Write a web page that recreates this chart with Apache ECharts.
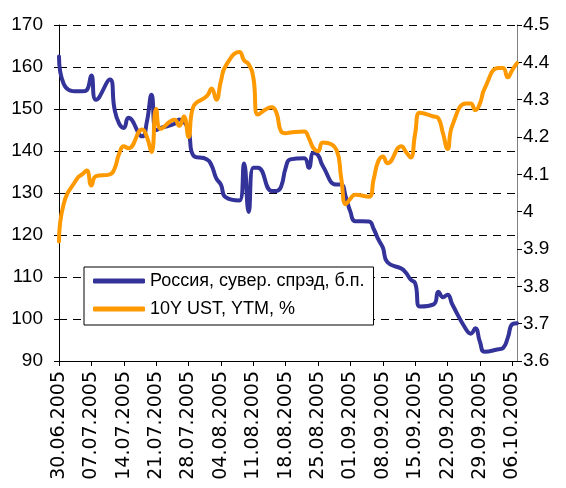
<!DOCTYPE html>
<html>
<head>
<meta charset="utf-8">
<script src="https://cdn.jsdelivr.net/npm/echarts@6/dist/echarts.min.js"></script>
<style>
html,body{margin:0;padding:0;background:#fff;}
#chart{width:566px;height:488px;}
</style>
</head>
<body>
<div id="chart"></div>
<script>
// Business (trading) dates
const tradeDates = [
  '30.06.2005','01.07.2005',
  '04.07.2005','05.07.2005','06.07.2005','07.07.2005','08.07.2005',
  '11.07.2005','12.07.2005','13.07.2005','14.07.2005','15.07.2005',
  '18.07.2005','19.07.2005','20.07.2005','21.07.2005','22.07.2005',
  '25.07.2005','26.07.2005','27.07.2005','28.07.2005','29.07.2005',
  '01.08.2005','02.08.2005','03.08.2005','04.08.2005','05.08.2005',
  '08.08.2005','09.08.2005','10.08.2005','11.08.2005','12.08.2005',
  '15.08.2005','16.08.2005','17.08.2005','18.08.2005','19.08.2005',
  '22.08.2005','23.08.2005','24.08.2005','25.08.2005','26.08.2005',
  '29.08.2005','30.08.2005','31.08.2005','01.09.2005','02.09.2005',
  '05.09.2005','06.09.2005','07.09.2005','08.09.2005','09.09.2005',
  '12.09.2005','13.09.2005','14.09.2005','15.09.2005','16.09.2005',
  '19.09.2005','20.09.2005','21.09.2005','22.09.2005','23.09.2005',
  '26.09.2005','27.09.2005','28.09.2005','29.09.2005','30.09.2005',
  '03.10.2005','04.10.2005','05.10.2005','06.10.2005','07.10.2005'
];

// Россия, суверенный спрэд, б.п. (left axis)
const spreadRussia = [
  162.5, 156,
  154.2, 154.2, 154.5, 158, 152.2,
  157, 150, 146.5, 145.5, 147.9,
  143.5, 147, 153.4, 145, 145.5,
  146.5, 147.5, 147, 145, 139,
  138, 136.5, 133.5, 132, 129,
  128.2, 137, 125.5, 136, 136,
  130.5, 130.5, 131.5, 136, 138,
  138.3, 136, 139.5, 139, 136.5,
  132, 132, 129, 125.5, 123.3,
  123.2, 121.5, 119, 117, 113.5,
  112, 111, 109.4, 108.5, 103,
  103.5, 106.5, 105.2, 105.8, 103.5,
  97.5, 96.5, 97.8, 94.5, 92.2,
  92.8, 93.1, 95.5, 98.8, 99
];

// 10Y UST, YTM, % (right axis)
const ustYield = [
  3.92, 4.02,
  4.09, 4.10, 4.11, 4.07, 4.095,
  4.10, 4.115, 4.155, 4.175, 4.17,
  4.22, 4.20, 4.16, 4.275, 4.222,
  4.246, 4.23, 4.255, 4.20, 4.28,
  4.31, 4.33, 4.30, 4.35, 4.39,
  4.428, 4.405, 4.395, 4.36, 4.26,
  4.28, 4.265, 4.215, 4.21, 4.212,
  4.215, 4.197, 4.17, 4.162, 4.185,
  4.165, 4.09, 4.02, 4.035, 4.045,
  4.04, 4.086, 4.135, 4.148, 4.13,
  4.175, 4.16, 4.145, 4.21, 4.265,
  4.255, 4.25, 4.21, 4.168, 4.23,
  4.29, 4.29, 4.272, 4.29, 4.33,
  4.385, 4.385, 4.36, 4.38, 4.398
];

const seriesNames = ['Россия, сувер. спрэд, б.п.', '10Y UST, YTM, %'];

// Calendar-day categories for the date axis (30.06.2005 .. 07.10.2005)
function pad(n){ return (n < 10 ? '0' : '') + n; }
const calendarDays = [];
(function(){
  const start = Date.UTC(2005, 5, 30);
  const end = Date.UTC(2005, 9, 7);
  for (let t = start; t <= end; t += 86400000) {
    const d = new Date(t);
    calendarDays.push(pad(d.getUTCDate()) + '.' + pad(d.getUTCMonth() + 1) + '.' + d.getUTCFullYear());
  }
})();

const FONT = "'Liberation Sans', Arial, sans-serif";

const chart = echarts.init(document.getElementById('chart'), null, {renderer: 'canvas'});
chart.setOption({
  animation: false,
  backgroundColor: '#fff',
  textStyle: {fontFamily: FONT},
  grid: {left: 59, right: 49, top: 25, bottom: 127, containLabel: false},
  legend: {
    orient: 'vertical',
    left: 84, top: 267,
    width: 293,
    padding: [4, 9, 6, 9],
    backgroundColor: '#fff',
    borderColor: '#000',
    borderWidth: 1,
    borderRadius: 0,
    itemWidth: 52,
    itemHeight: 5,
    itemGap: 8,
    icon: 'roundRect',
    textStyle: {fontFamily: FONT, fontSize: 18, color: '#000', lineHeight: 20},
    data: seriesNames
  },
  xAxis: {
    type: 'category',
    data: calendarDays,
    boundaryGap: false,
    axisLine: {lineStyle: {color: '#000', width: 1}},
    axisTick: {interval: 6, length: 5, lineStyle: {color: '#000'}},
    axisLabel: {interval: 6, rotate: 90, fontSize: 19, color: '#000',
      fontFamily: "'DejaVu Sans', sans-serif", margin: 10},
    splitLine: {show: false}
  },
  yAxis: [
    {
      type: 'value', min: 90, max: 170, interval: 10,
      axisLine: {show: true, lineStyle: {color: '#000'}},
      axisTick: {show: true, length: 5, lineStyle: {color: '#000'}},
      axisLabel: {fontSize: 19, color: '#000', fontFamily: FONT, margin: 16},
      splitLine: {show: true, lineStyle: {color: '#000', width: 1, type: [8, 6]}}
    },
    {
      type: 'value', min: 3.6, max: 4.5, interval: 0.1,
      position: 'right',
      axisLine: {show: true, lineStyle: {color: '#808080'}},
      axisTick: {show: true, length: 5, lineStyle: {color: '#000'}},
      axisLabel: {fontSize: 19, color: '#000', fontFamily: FONT, margin: 6,
        formatter: v => String(+v.toFixed(1))},
      splitLine: {show: false}
    }
  ],
  series: [
    {
      name: seriesNames[0],
      type: 'line',
      yAxisIndex: 0,
      data: tradeDates.map((d, i) => [d, spreadRussia[i]]),
      showSymbol: false,
      symbol: 'none',
      smooth: 0.5,
      lineStyle: {color: '#333399', width: 4, cap: 'round', join: 'round'},
      itemStyle: {color: '#333399'}
    },
    {
      name: seriesNames[1],
      type: 'line',
      yAxisIndex: 1,
      data: tradeDates.map((d, i) => [d, ustYield[i]]),
      showSymbol: false,
      symbol: 'none',
      smooth: 0.5,
      lineStyle: {color: '#FF9900', width: 4, cap: 'round', join: 'round'},
      itemStyle: {color: '#FF9900'}
    }
  ]
});
</script>
</body>
</html>
